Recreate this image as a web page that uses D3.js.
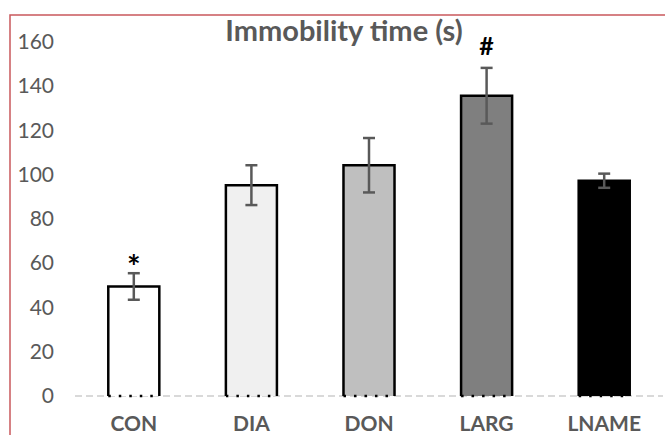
<!DOCTYPE html>
<html>
<head>
<meta charset="utf-8">
<script src="https://cdn.jsdelivr.net/npm/d3@7"></script>
<style>
  body { margin: 0; background: #fff; }
  svg { display: block; }
</style>
</head>
<body>
<svg id="chart" width="665" height="435"></svg>
<script>
// chart values
const categories = ["CON", "DIA", "DON", "LARG", "LNAME"];
const means = [49.5, 95.3, 104.3, 135.7, 97.3];
const errors = [6, 9, 12.3, 12.6, 3.2];
const fills = ["#ffffff", "#f0f0f0", "#bfbfbf", "#7f7f7f", "#000000"];
const marks = ["*", "", "", "#", ""];
const yTicks = [0, 20, 40, 60, 80, 100, 120, 140, 160];

let svg = d3.select("#chart");
let font = "Lato, 'Open Sans', sans-serif";
let textGrey = "#595959";

// outer red frame (runs off the right and bottom edges)
svg.append("rect")
    .attr("x", 10)
    .attr("y", 15)
    .attr("width", 700)
    .attr("height", 500)
    .attr("fill", "none")
    .attr("stroke", "#c9585c")
    .attr("stroke-width", 1.5);

// Setup scales.
let xScale = d3.scaleBand()
    .domain(categories)
    .range([75, 663])
    .paddingInner(0.566)
    .paddingOuter(0.283);

let yScale = d3.scaleLinear()
    .domain([0, 160])
    .range([396, 42]);

// y tick labels, no axis line
let yAxis = svg.append("g")
    .attr("transform", "translate(54,0)")
    .call(d3.axisLeft(yScale).tickValues(yTicks).tickSize(0).tickPadding(0));
yAxis.select(".domain").remove();
yAxis.selectAll("text")
    .style("font-family", font)
    .style("font-size", "21px")
    .attr("fill", textGrey);

// zero line
svg.append("line")
    .attr("x1", 75)
    .attr("x2", 663)
    .attr("y1", yScale(0))
    .attr("y2", yScale(0))
    .attr("stroke", "#d9d9d9")
    .attr("stroke-width", 2)
    .style("stroke-dasharray", "7,4");

// bars
let bars = svg.append("g");
categories.forEach(function(c, i) {
    let x0 = xScale(c);
    let x1 = x0 + xScale.bandwidth();
    let yTop = yScale(means[i]);
    let y0 = yScale(0);

    bars.append("rect")
        .attr("x", x0)
        .attr("y", yTop)
        .attr("width", xScale.bandwidth())
        .attr("height", y0 - yTop)
        .attr("fill", fills[i]);

    bars.append("path")
        .attr("d", "M" + x0 + "," + y0 + "V" + yTop + "H" + x1 + "V" + y0)
        .attr("fill", "none")
        .attr("stroke", "#000")
        .attr("stroke-width", 2.5);

    // dotted bottom edge
    bars.append("line")
        .attr("x1", x0)
        .attr("x2", x1)
        .attr("y1", y0)
        .attr("y2", y0)
        .attr("stroke", "#000")
        .attr("stroke-width", 2.5)
        .style("stroke-dasharray", "2.5,8");
});

// error bars
let errG = svg.append("g")
    .attr("stroke", textGrey)
    .attr("stroke-width", 2.5);
categories.forEach(function(c, i) {
    let cx = xScale(c) + xScale.bandwidth() / 2;
    let hi = yScale(means[i] + errors[i]);
    let lo = yScale(means[i] - errors[i]);
    errG.append("line").attr("x1", cx).attr("x2", cx).attr("y1", hi).attr("y2", lo);
    errG.append("line").attr("x1", cx - 6).attr("x2", cx + 6).attr("y1", hi).attr("y2", hi);
    errG.append("line").attr("x1", cx - 6).attr("x2", cx + 6).attr("y1", lo).attr("y2", lo);
});

// significance marks
categories.forEach(function(c, i) {
    if (!marks[i]) return;
    let cx = xScale(c) + xScale.bandwidth() / 2;
    let hi = yScale(means[i] + errors[i]);
    svg.append("text")
        .attr("x", cx)
        .attr("y", marks[i] == "*" ? hi + 6 : hi - 13)
        .style("text-anchor", "middle")
        .style("font-family", font)
        .style("font-weight", "bold")
        .style("font-size", marks[i] == "*" ? "32px" : "25px")
        .attr("fill", "#000")
        .text(marks[i]);
});

// category labels
categories.forEach(function(c) {
    svg.append("text")
        .attr("x", xScale(c) + xScale.bandwidth() / 2)
        .attr("y", 431)
        .style("text-anchor", "middle")
        .style("font-family", font)
        .style("font-weight", "bold")
        .style("font-size", "21px")
        .attr("fill", textGrey)
        .text(c);
});

// title
svg.append("text")
    .attr("x", 344)
    .attr("y", 41)
    .style("text-anchor", "middle")
    .style("font-family", font)
    .style("font-weight", "bold")
    .style("font-size", "29px")
    .attr("fill", textGrey)
    .text("Immobility time (s)");
</script>
</body>
</html>
